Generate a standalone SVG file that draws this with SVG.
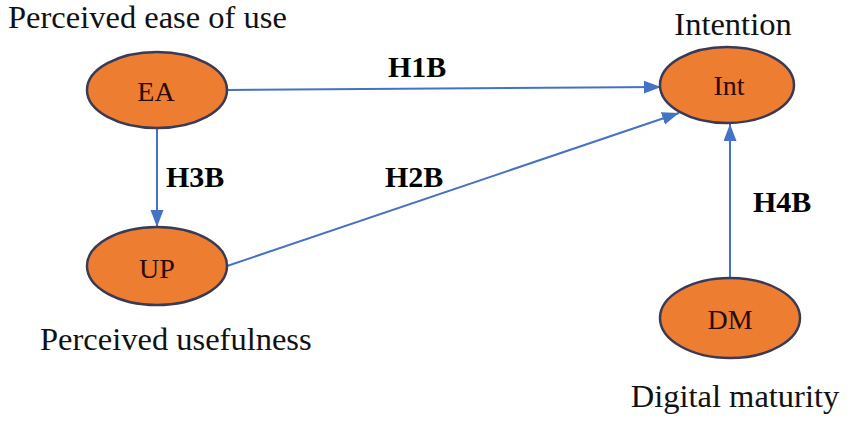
<svg xmlns="http://www.w3.org/2000/svg" width="851" height="421" viewBox="0 0 851 421">
<defs>
<marker id="arr" markerUnits="userSpaceOnUse" markerWidth="18" markerHeight="14" refX="17" refY="6.5" orient="auto">
<path d="M0,0 L17,6.5 L0,13 z" fill="#4472C4"/>
</marker>
</defs>
<rect width="851" height="421" fill="#fff"/>
<g id="connectors" fill="none" stroke="#4472C4" stroke-width="2">
<path d="M227,90 L661,87" marker-end="url(#arr)"/>
<path d="M157,128 L157,227" marker-end="url(#arr)"/>
<path d="M227,266 L679,113" marker-end="url(#arr)"/>
<path d="M730,278 L730,124" marker-end="url(#arr)"/>
</g>
<g id="labels" font-family="Liberation Serif" font-size="30" font-weight="bold" fill="#000">
<text x="388" y="77">H1B</text>
<text x="166" y="187">H3B</text>
<text x="385" y="187">H2B</text>
<text x="753" y="212">H4B</text>
</g>
<g id="node-EA" font-family="Liberation Serif">
<ellipse cx="157" cy="90" rx="70" ry="38" fill="#ED7D31" stroke="#3A3A56" stroke-width="2.5"/>
<text x="156" y="101" text-anchor="middle" font-size="28" fill="#2A0A04">EA</text>
<text x="8" y="28" font-size="32.5" fill="#111">Perceived ease of use</text>
</g>
<g id="node-UP" font-family="Liberation Serif">
<ellipse cx="157" cy="266" rx="70" ry="39" fill="#ED7D31" stroke="#3A3A56" stroke-width="2.5"/>
<text x="157" y="278" text-anchor="middle" font-size="28" fill="#2A0A04">UP</text>
<text x="40" y="350" font-size="32.5" fill="#111">Perceived usefulness</text>
</g>
<g id="node-Int" font-family="Liberation Serif">
<ellipse cx="727" cy="85" rx="67" ry="38" fill="#ED7D31" stroke="#3A3A56" stroke-width="2.5"/>
<text x="729" y="95" text-anchor="middle" font-size="28" fill="#2A0A04">Int</text>
<text x="733" y="35" text-anchor="middle" font-size="32.5" fill="#111">Intention</text>
</g>
<g id="node-DM" font-family="Liberation Serif">
<ellipse cx="730" cy="318" rx="70" ry="40" fill="#ED7D31" stroke="#3A3A56" stroke-width="2.5"/>
<text x="730" y="329" text-anchor="middle" font-size="28" fill="#2A0A04">DM</text>
<text x="735" y="407" text-anchor="middle" font-size="32.5" fill="#111">Digital maturity</text>
</g>
</svg>
